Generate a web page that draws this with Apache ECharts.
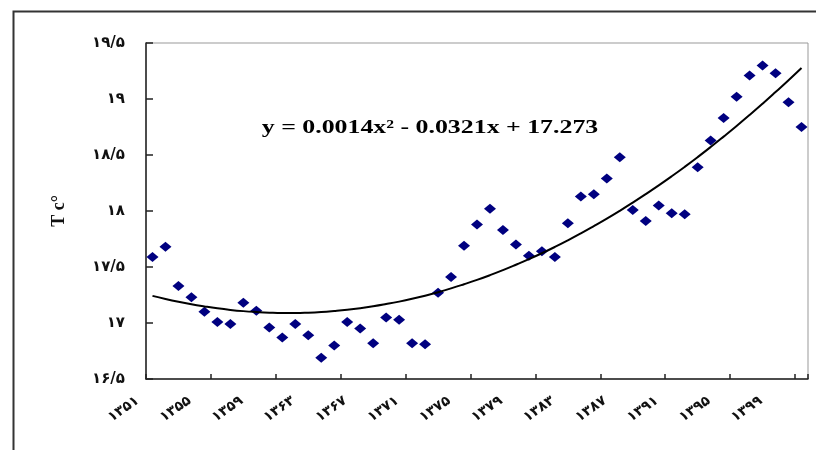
<!DOCTYPE html>
<html><head><meta charset="utf-8">
<script src="https://cdn.jsdelivr.net/npm/echarts@6/dist/echarts.min.js"></script>
<style>html,body{margin:0;padding:0;background:#fff}#c{width:816px;height:450px}</style>
</head><body><div id="c"></div>
<script>
const years = [1351,1352,1353,1354,1355,1356,1357,1358,1359,1360,1361,1362,1363,1364,1365,1366,1367,1368,1369,1370,1371,1372,1373,1374,1375,1376,1377,1378,1379,1380,1381,1382,1383,1384,1385,1386,1387,1388,1389,1390,1391,1392,1393,1394,1395,1396,1397,1398,1399,1400,1401];
const temps = [17.59,17.68,17.33,17.23,17.10,17.01,16.99,17.18,17.11,16.96,16.87,16.99,16.89,16.69,16.80,17.01,16.95,16.82,17.05,17.03,16.82,16.81,17.27,17.41,17.69,17.88,18.02,17.83,17.70,17.60,17.64,17.59,17.89,18.13,18.15,18.29,18.48,18.01,17.91,18.05,17.98,17.97,18.39,18.63,18.83,19.02,19.21,19.30,19.23,18.97,18.75];
const trend = [17.242,17.214,17.189,17.167,17.148,17.131,17.117,17.106,17.098,17.092,17.089,17.089,17.092,17.098,17.107,17.118,17.132,17.149,17.169,17.191,17.216,17.244,17.275,17.309,17.346,17.385,17.427,17.472,17.520,17.570,17.623,17.679,17.738,17.800,17.865,17.932,18.002,18.075,18.151,18.229,18.310,18.394,18.481,18.571,18.664,18.759,18.857,18.958,19.062,19.168,19.277];
const yTicks = [16.5,17,17.5,18,18.5,19,19.5];
const yTickLabels = ['۱۶/۵','۱۷','۱۷/۵','۱۸','۱۸/۵','۱۹','۱۹/۵'];
const equation = 'y = 0.0014x² - 0.0321x + 17.273';
const yAxisTitle = 'T c°';

const fa = s => String(s).replace(/[0-9]/g, d => '۰۱۲۳۴۵۶۷۸۹'[+d]);
const cats = years.map(fa);

const chart = echarts.init(document.getElementById('c'), null, {renderer: 'canvas'});
chart.setOption({
  animation: false,
  backgroundColor: '#fff',
  grid: {left: 146, right: 8, top: 43, bottom: 71, show: true, borderColor: '#999', borderWidth: 1, backgroundColor: '#fff'},
  xAxis: {
    type: 'category', data: cats, boundaryGap: true,
    axisLine: {lineStyle: {color: '#222', width: 1.5}},
    axisTick: {show: true, inside: true, interval: 4, length: 5, lineStyle: {color: '#222', width: 1.5}},
    axisLabel: {interval: 3, rotate: 35, margin: 10, padding: [0, 18, 0, 0], fontFamily: 'DejaVu Sans', fontWeight: 'bold', fontSize: 14, color: '#111'},
    splitLine: {show: false}
  },
  yAxis: {
    type: 'value', min: 16.5, max: 19.5, interval: 0.5,
    name: yAxisTitle, nameLocation: 'middle', nameRotate: 90, nameGap: 78,
    nameTextStyle: {fontFamily: 'Liberation Serif', fontWeight: 'bold', fontSize: 18, color: '#111'},
    axisLine: {show: true, lineStyle: {color: '#222', width: 1.5}},
    axisTick: {show: true, inside: true, length: 7, lineStyle: {color: '#222', width: 1.5}},
    axisLabel: {margin: 21, fontFamily: 'DejaVu Sans', fontWeight: 'bold', fontSize: 15, color: '#111',
      formatter: v => { const i = yTicks.findIndex(t => Math.abs(t - v) < 1e-6); return i >= 0 ? yTickLabels[i] : ''; }},
    splitLine: {show: false}
  },
  graphic: [
    {type: 'rect', left: 11, top: 9, shape: {width: 830, height: 470}, style: {fill: 'none', stroke: '#333', lineWidth: 2}, silent: true, z: 100},
    {type: 'text', x: 430, y: 128, scaleX: 1.36, style: {text: equation, font: 'bold 19px "Liberation Serif"', fill: '#000', textAlign: 'center', textVerticalAlign: 'middle'}, z: 100}
  ],
  series: [
    {type: 'scatter', data: temps, symbol: 'diamond', symbolSize: [12, 10], itemStyle: {color: '#000080', opacity: 1}, z: 3},
    {type: 'line', data: trend, smooth: true, symbol: 'none', lineStyle: {color: '#000', width: 2}, z: 4}
  ]
});
</script></body></html>
